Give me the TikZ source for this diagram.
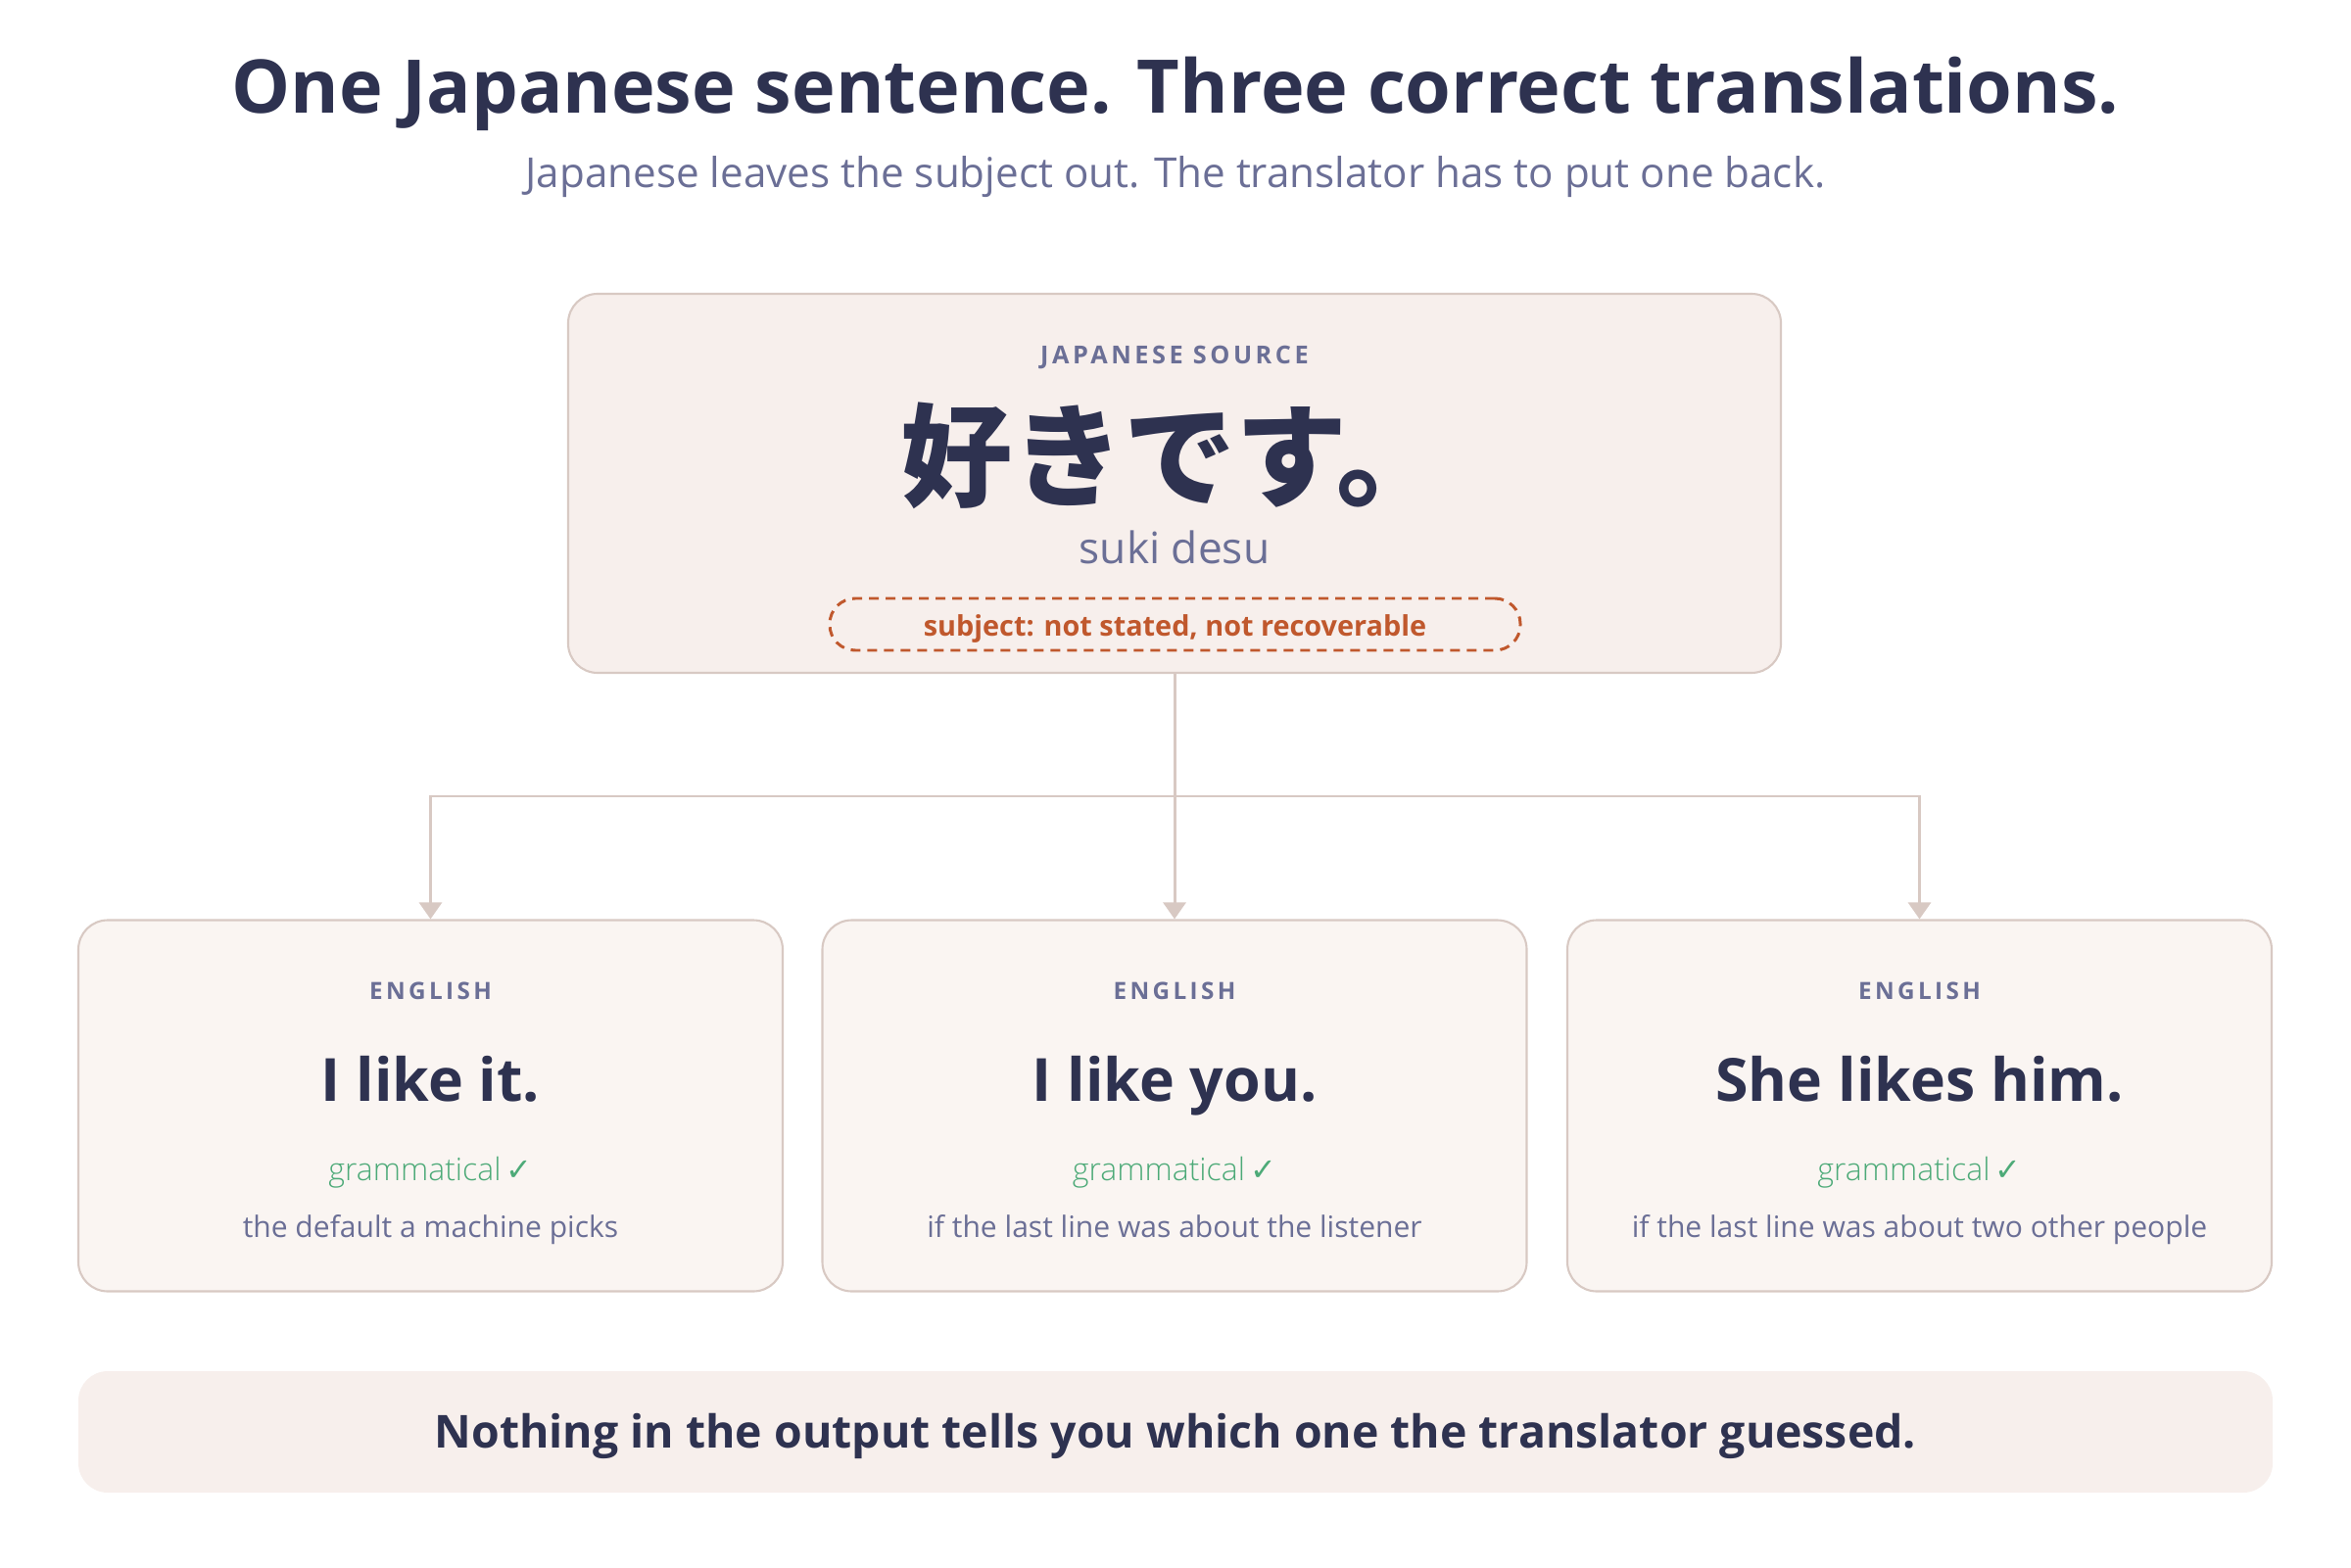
\documentclass[tikz,border=0pt]{standalone}
\usepackage{fontspec}
\setmainfont{Open Sans}
\newfontfamily\cjk{Noto Sans CJK JP}
\newfontfamily\symb{DejaVu Sans}
\newfontfamily\thin{Open Sans Light}
\newfontfamily\spaced[LetterSpace=14]{Open Sans}
\usetikzlibrary{arrows.meta,positioning}
\definecolor{ink}{HTML}{2E3250}
\definecolor{muted}{HTML}{6B6F96}
\definecolor{okgreen}{HTML}{4DAA78}
\definecolor{rust}{HTML}{C0582D}
\definecolor{edge}{HTML}{D8C9C3}
\definecolor{srcfill}{HTML}{F7EFEC}
\definecolor{cardfill}{HTML}{FAF5F2}
\begin{document}
\begin{tikzpicture}[x=1cm,y=-1cm,>={Triangle[length=0.17cm,width=0.23cm]},
 every node/.style={anchor=base,inner sep=0pt},
 box/.style={anchor=center,draw=edge,line width=0.6pt,rounded corners=0.3cm},
 tag/.style={text=muted,font=\spaced\bfseries\fontsize{6.9pt}{8pt}\selectfont},
 line/.style={text=ink,font=\bfseries\fontsize{17.3pt}{21pt}\selectfont},
 ok/.style={text=okgreen,font=\thin\fontsize{9.1pt}{11pt}\selectfont},
 note/.style={text=muted,font=\fontsize{8.55pt}{10pt}\selectfont},
 link/.style={draw=edge,line width=0.85pt}]
 \useasboundingbox (0,0) rectangle (24,16);
 \node[text=ink,font=\bfseries\fontsize{21.5pt}{26pt}\selectfont] (title) at (12,1.16) {One Japanese sentence. Three correct translations.};
 \node[text=muted,font=\fontsize{12pt}{15pt}\selectfont] (sub) at (12,1.92) {Japanese leaves the subject out. The translator has to put one back.};
 % source
 \node[box,fill=srcfill,minimum width=12.38cm,minimum height=3.87cm] (src) at (11.99,4.935) {};
 \node[tag,font=\spaced\bfseries\fontsize{7.2pt}{9pt}\selectfont] (srctag) at (11.99,3.72) {JAPANESE SOURCE};
 \node[text=ink,font=\cjk\bfseries\fontsize{32.5pt}{36pt}\selectfont] (ja) at (11.99,5.08) {好きです。};
 \node[text=muted,font=\fontsize{12.6pt}{15pt}\selectfont] (romaji) at (11.99,5.76) {suki desu};
 \node[anchor=center,draw=rust,line width=0.85pt,dash pattern=on 1mm off 0.7mm,rounded corners=0.26cm,minimum width=7.05cm,minimum height=0.53cm] (gap) at (11.995,6.375) {};
 \node[text=rust,font=\bfseries\fontsize{8.2pt}{10pt}\selectfont] (gaptext) at (11.995,6.49) {subject: not stated, not recoverable};
 % cards
 \node[box,fill=cardfill,minimum width=7.19cm,minimum height=3.79cm] (en1) at (4.395,11.29) {};
 \node[box,fill=cardfill,minimum width=7.19cm,minimum height=3.79cm] (en2) at (11.99,11.29) {};
 \node[box,fill=cardfill,minimum width=7.19cm,minimum height=3.79cm] (en3) at (19.595,11.29) {};
 \node[tag] (tag1) at (4.395,10.20) {ENGLISH};
 \node[tag] (tag2) at (11.99,10.20) {ENGLISH};
 \node[tag] (tag3) at (19.595,10.20) {ENGLISH};
 \node[line] (line1) at (4.395,11.24) {I like it.};
 \node[line] (line2) at (11.99,11.24) {I like you.};
 \node[line] (line3) at (19.595,11.24) {She likes him.};
 \node[ok] (ok1) at (4.395,12.05) {grammatical\thinspace{\symb ✓}};
 \node[ok] (ok2) at (11.99,12.05) {grammatical\thinspace{\symb ✓}};
 \node[ok] (ok3) at (19.595,12.05) {grammatical\thinspace{\symb ✓}};
 \node[note] (note1) at (4.395,12.63) {the default a machine picks};
 \node[note] (note2) at (11.99,12.63) {if the last line was about the listener};
 \node[note] (note3) at (19.595,12.63) {if the last line was about two other people};
 % links
 \coordinate (hub) at (11.99,8.13);
 \draw[link] (src.south) -- (hub);
 \draw[link,->] (hub) -| (en1.north);
 \draw[link,->] (hub) -- (en2.north);
 \draw[link,->] (hub) -| (en3.north);
 % banner
 \node[anchor=center,fill=srcfill,rounded corners=0.3cm,minimum width=22.4cm,minimum height=1.24cm] (banner) at (12,14.62) {};
 \node[text=ink,font=\bfseries\fontsize{13.2pt}{16pt}\selectfont] (verdict) at (12,14.78) {Nothing in the output tells you which one the translator guessed.};
\end{tikzpicture}
\end{document}
